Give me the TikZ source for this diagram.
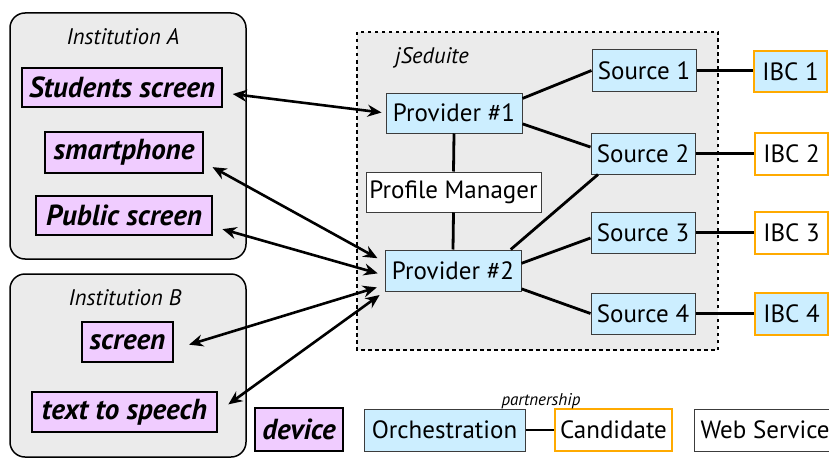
\documentclass[tikz,border=0pt]{standalone}
\usepackage{fontspec}
\setmainfont{PT Sans}
\usetikzlibrary{arrows.meta}
\definecolor{grayfill}{RGB}{235,235,235}
\definecolor{pinkfill}{RGB}{240,204,255}
\definecolor{bluefill}{RGB}{204,238,255}
\definecolor{orangeb}{RGB}{255,170,0}
\definecolor{darkb}{RGB}{60,60,60}
\begin{document}
\begin{tikzpicture}[x=1pt,y=-1pt,
  inst/.style={draw=black,line width=1.5pt,fill=grayfill,rounded corners=15pt},
  dev/.style={draw=black,line width=1.6pt,fill=pinkfill,inner sep=0pt,font=\fontsize{29}{32}\selectfont\bfseries\itshape},
  orch/.style={draw=darkb,line width=1pt,fill=bluefill,inner sep=0pt,font=\fontsize{25}{28}\selectfont},
  ws/.style={draw=darkb,line width=1pt,fill=white,inner sep=0pt,font=\fontsize{25}{28}\selectfont},
  cand/.style={draw=orangeb,line width=2.4pt,inner sep=0pt,font=\fontsize{25}{28}\selectfont},
  lbl/.style={font=\fontsize{22.5}{26}\selectfont\itshape,inner sep=0pt},
  conn/.style={line width=2.8pt},
  arr/.style={line width=2.6pt,{Stealth[length=14pt,width=12pt]}-{Stealth[length=14pt,width=12pt]}}
]
\useasboundingbox (0,0) rectangle (829,460);
\clip (0,0) rectangle (829,460);
% containers
\path[inst] (10,13) rectangle (246,259);
\path[inst] (10,274) rectangle (246,457);
\draw[line width=1.5pt,dashed,dash pattern=on 3.5pt off 3.5pt,fill=grayfill] (357,32) rectangle (718,350);
\node[lbl] (instA) at (123,37) {Institution A};
\node[lbl] (instB) at (125,298) {Institution B};
\node[lbl] (jsed) at (432,58) {jSeduite};
% devices
\node[dev,minimum width=200pt,minimum height=39pt] (ss) at (122,87.5) {Students screen};
\node[dev,minimum width=158pt,minimum height=41pt] (sp) at (124,152.5) {smartphone};
\node[dev,minimum width=176pt,minimum height=39pt] (ps) at (124,215.5) {Public screen};
\node[dev,minimum width=91pt,minimum height=40pt] (scr) at (127.5,342) {screen};
\node[dev,minimum width=185pt,minimum height=40pt] (tts) at (124.5,412) {text to speech};
% jSeduite
\node[orch,minimum width=136pt,minimum height=40pt] (p1) at (454,113) {Provider \#1};
\node[ws,minimum width=175pt,minimum height=40pt] (pm) at (453.5,192) {Profile Manager};
\node[orch,minimum width=136pt,minimum height=41pt] (p2) at (453,270.5) {Provider \#2};
\node[orch,minimum width=104pt,minimum height=41pt] (s1) at (644,70.5) {Source 1};
\node[orch,minimum width=104pt,minimum height=41pt] (s2) at (643,153.5) {Source 2};
\node[orch,minimum width=104pt,minimum height=41pt] (s3) at (643,232.5) {Source 3};
\node[orch,minimum width=104pt,minimum height=41pt] (s4) at (643,313.5) {Source 4};
\node[cand,fill=bluefill,minimum width=73pt,minimum height=41pt] (i1) at (790.5,71.5) {IBC 1};
\node[cand,fill=white,minimum width=73pt,minimum height=42pt] (i2) at (791.5,154) {IBC 2};
\node[cand,fill=white,minimum width=73pt,minimum height=42pt] (i3) at (791.5,233) {IBC 3};
\node[cand,fill=bluefill,minimum width=73pt,minimum height=42pt] (i4) at (791.5,314) {IBC 4};
% legend
\node[dev,minimum width=88pt,minimum height=43pt] (dv) at (299,429.5) {device};
\node[orch,minimum width=161pt,minimum height=42pt] (or) at (444.5,430) {Orchestration};
\node[cand,fill=white,minimum width=117pt,minimum height=42pt] (ca) at (613.5,430) {Candidate};
\node[ws,anchor=west,inner xsep=6pt,minimum height=42pt] (wsv) at (694,430) {Web Service};
\node[font=\fontsize{17}{19}\selectfont\itshape,inner sep=0pt] (pship) at (541,401) {partnership};
% connectors
\draw[conn] (p1.12) -- (s1.west);
\draw[conn] (p1.-9) -- (s2.173);
\draw[conn] (p1.south) -- (pm.north);
\draw[conn] (pm.south) -- (p2.north);
\draw[conn] (p2.20) -- (s2.205);
\draw[conn] (p2.6) -- (s3.186);
\draw[conn] (p2.-15) -- (s4.west);
\draw[conn] (s1.east) -- (s1.east -| i1.west);
\draw[conn] (s2.east) -- (s2.east -| i2.west);
\draw[conn] (s3.east) -- (s3.east -| i3.west);
\draw[conn] (s4.east) -- (s4.east -| i4.west);
\draw[conn] (or.east) -- (ca.west);
% arrows
\draw[arr,shorten <=10pt,shorten >=4pt] (ss.-3) -- (p1.west);
\draw[arr,shorten <=10pt,shorten >=8pt] (sp.-7) -- (p2.173);
\draw[arr,shorten <=10pt,shorten >=7pt] (ps.-7) -- (p2.184);
\draw[arr,shorten <=16pt,shorten >=8pt] (scr.-9) -- (p2.192);
\draw[arr,shorten <=13pt,shorten >=6pt] (tts.east) -- (p2.south west);
\end{tikzpicture}
\end{document}
